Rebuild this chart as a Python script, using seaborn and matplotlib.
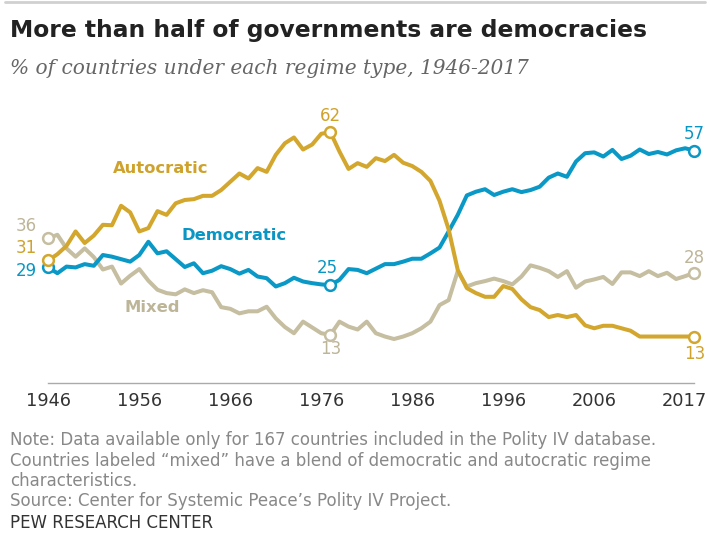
import matplotlib
matplotlib.use("Agg")
import matplotlib.pyplot as plt
from matplotlib.lines import Line2D
import matplotlib.transforms as mtrans
import numpy as np
import pandas as pd
import seaborn as sns

# ---------------- data ----------------
years = list(range(1946, 2018))

autocratic = [31, 32.5, 34.5, 38, 35.2, 37, 39.6, 39.5, 44.2, 42.6,
              38, 38.8, 42.9, 42, 44.8, 45.6, 45.8, 46.6, 46.6, 48,
              50, 52, 50.8, 53.3, 52.4, 56.5, 59.3, 60.7, 57.8, 59,
              61.6, 62, 57.3, 53.1, 54.5, 53.6, 55.7, 55, 56.5, 54.6,
              53.8, 52.4, 50.2, 45.4, 38.5, 28.7, 24.3, 23.1, 22.2, 22.2,
              24.8, 24.1, 21.6, 19.7, 19, 17.3, 17.8, 17.3, 17.8, 15.3,
              14.6, 15.2, 15.2, 14.6, 14, 12.6, 12.6, 12.6, 12.6, 12.6,
              12.6, 12.6]

democratic = [29.3, 27.9, 29.5, 29.3, 30.1, 29.7, 32.3, 31.9, 31.3, 30.7,
              32.3, 35.5, 32.7, 33.2, 31.3, 29.4, 30.3, 27.9, 28.5, 29.6,
              28.9, 27.8, 28.7, 27.1, 26.7, 24.7, 25.5, 26.8, 25.9, 25.5,
              25.2, 25, 26.3, 28.9, 28.7, 27.9, 29, 30.1, 30.1, 30.7,
              31.4, 31.4, 32.7, 34.1, 38, 42, 46.7, 47.6, 48.2, 46.8,
              47.6, 48.2, 47.5, 48, 48.8, 51, 52, 51.2, 54.9, 56.9,
              57.1, 56.1, 57.7, 55.5, 56.3, 57.8, 56.7, 57.2, 56.6, 57.6,
              58.1, 57.5]

mixed = [36.3, 37.2, 33.9, 31.9, 33.9, 31.8, 28.8, 29.5, 25.4, 27.3,
         28.9, 26.1, 23.9, 23.1, 22.8, 24.0, 23.1, 23.8, 23.3, 19.7,
         19.3, 18.2, 18.7, 18.7, 19.8, 17, 14.9, 13.4, 16.2, 14.8,
         13.4, 13, 16.2, 15, 14.3, 16.2, 13.4, 12.6, 12, 12.6,
         13.4, 14.6, 16.2, 20.2, 21.4, 28.4, 24.7, 25.5, 26, 26.6,
         26, 25.2, 27.1, 29.8, 29.2, 28.4, 27, 28.4, 24.4, 25.9,
         26.4, 27, 25.3, 28.1, 28.1, 27.2, 28.4, 27.2, 28, 26.5,
         27.2, 28]

series_names = ["Mixed", "Democratic", "Autocratic"]
marker_years = [1946, 1977, 2017]
tick_years = [1946, 1956, 1966, 1976, 1986, 1996, 2006, 2017]

title = "More than half of governments are democracies"
subtitle = "% of countries under each regime type, 1946-2017"
notes = ["Note: Data available only for 167 countries included in the Polity IV database.",
         "Countries labeled \u201cmixed\u201d have a blend of democratic and autocratic regime",
         "characteristics.",
         "Source: Center for Systemic Peace\u2019s Polity IV Project."]
credit = "PEW RESEARCH CENTER"

# ---------------- style ----------------
colors = {"Autocratic": "#D3A62D", "Democratic": "#0A98C6", "Mixed": "#C6BEA1"}
text_colors = {"Autocratic": "#CFA22B", "Democratic": "#0A96C4", "Mixed": "#BDB598"}

sns.set_style("white")
plt.rcParams["font.family"] = ["DejaVu Sans"]

df = pd.DataFrame({"year": years, "Autocratic": autocratic,
                   "Democratic": democratic, "Mixed": mixed})
long = df.melt(id_vars="year", var_name="regime", value_name="value")

W, H = 710, 533
fig = plt.figure(figsize=(W / 100, H / 100), dpi=100)

# axes placement (pixel based)
x0_px, x1_px = 48.3, 694.3
ybot_px, ytop_px = 383.3, 119.7
ax = fig.add_axes([x0_px / W, 1 - ybot_px / H, (x1_px - x0_px) / W, (ybot_px - ytop_px) / H])

sns.lineplot(data=long, x="year", y="value", hue="regime", hue_order=series_names,
             palette=colors, linewidth=2.9, legend=False, estimator=None, ax=ax)
for ln in ax.lines:
    ln.set_solid_joinstyle("round")
    ln.set_solid_capstyle("round")
    ln.set_clip_on(False)

for name in series_names:
    sub = long[(long.regime == name) & (long.year.isin(marker_years))]
    sns.scatterplot(data=sub, x="year", y="value", color="white", edgecolor=colors[name],
                    linewidth=1.8, s=60, zorder=5, ax=ax, legend=False, clip_on=False)

ax.set_xlim(1946, 2017)
ax.set_ylim(1.3, 65)
ax.set_yticks([])
ax.set_xticks(tick_years)
ax.set_xticklabels([str(y) for y in tick_years], fontsize=12.8, color="#333333")
ax.tick_params(axis="x", length=5, width=1, color="#aaaaaa", pad=6, direction="in")
for s in ["top", "right", "left"]:
    ax.spines[s].set_visible(False)
ax.spines["bottom"].set_color("#aaaaaa")
ax.spines["bottom"].set_linewidth(1)
ax.set_xlabel("")
ax.set_ylabel("")
ax.patch.set_alpha(0)

# last tick label right-aligned so it stays inside the figure
last = ax.get_xticklabels()[-1]
last.set_horizontalalignment("right")
last.set_transform(last.get_transform() + mtrans.ScaledTranslation(0.13, 0, fig.dpi_scale_trans))

# ---------------- value labels ----------------
vals = {"Autocratic": dict(zip(years, autocratic)),
        "Democratic": dict(zip(years, democratic)),
        "Mixed": dict(zip(years, mixed))}

def num_label(name, year, text, dx, dy):
    ax.annotate(text, xy=(year, vals[name][year]), xytext=(dx, dy),
                textcoords="offset pixels", ha="center", va="center",
                fontsize=12, color=text_colors[name], annotation_clip=False)

num_label("Mixed", 1946, "36", -22, 12.5)
num_label("Autocratic", 1946, "31", -22, 12.5)
num_label("Democratic", 1946, "29", -22, -4)
num_label("Autocratic", 1977, "62", 0, 16)
num_label("Democratic", 1977, "25", -3, 17)
num_label("Mixed", 1977, "13", 0, -14)
num_label("Democratic", 2017, "57", 0, 17)
num_label("Mixed", 2017, "28", 0, 15)
num_label("Autocratic", 2017, "13", 0, -17)

# series names
ax.text(1958.3, 53.3, "Autocratic", ha="center", va="center", fontsize=11.8,
        fontweight="bold", color=text_colors["Autocratic"])
ax.text(1966.4, 37.1, "Democratic", ha="center", va="center", fontsize=11.8,
        fontweight="bold", color=text_colors["Democratic"])
ax.text(1957.4, 19.7, "Mixed", ha="center", va="center", fontsize=11.8,
        fontweight="bold", color=text_colors["Mixed"])

# ---------------- titles & notes ----------------
def fy(px):
    return 1 - px / H

fig.add_artist(Line2D([5 / W, 705 / W], [fy(1.5), fy(1.5)], color="#d0d0d0", linewidth=2))
fig.text(10 / W, fy(30), title, fontsize=16.8, fontweight="bold", color="#222222", va="center")
fig.text(10 / W, fy(68), subtitle, fontsize=14.5, style="italic", family="DejaVu Serif",
         color="#666666", va="center")
for i, (t, y) in enumerate(zip(notes, [440, 461, 481, 501])):
    fig.text(10 / W, fy(y), t, fontsize=12.0, color="#888888", va="center")
fig.text(10 / W, fy(523.5), credit, fontsize=12.0, color="#333333", va="center")

fig.savefig("out.png", dpi=100)
